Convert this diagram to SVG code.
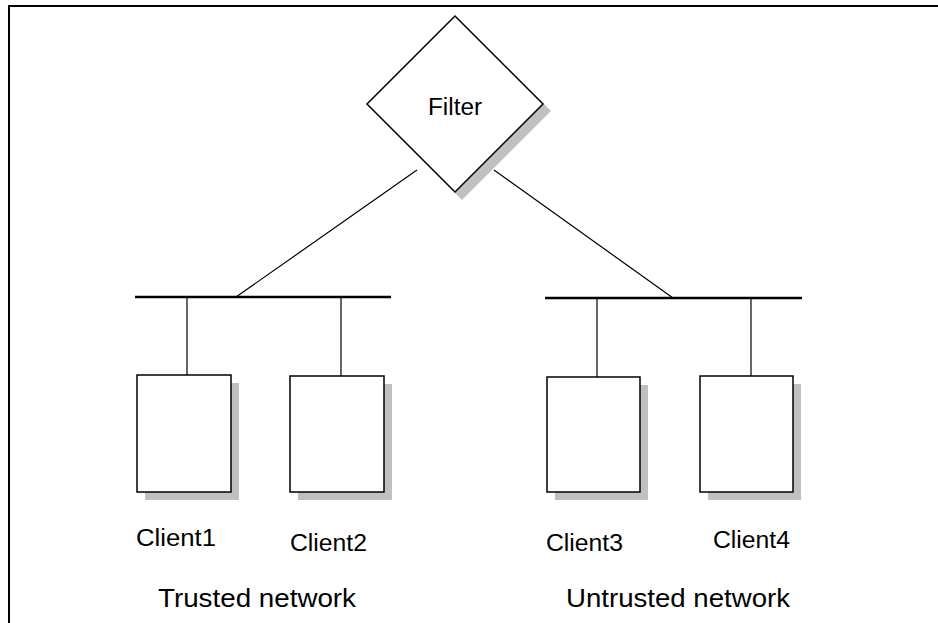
<svg xmlns="http://www.w3.org/2000/svg" width="938" height="623" viewBox="0 0 938 623">
<style>
.ln{stroke:#000;stroke-width:1.2;fill:none}
.bus{stroke:#000;stroke-width:2.6;fill:none}
.shadow{fill:#c0c0c0;stroke:none}
.box{fill:#fff;stroke:#000;stroke-width:1.5}
.t{font-family:"Liberation Sans",Arial,sans-serif;fill:#000}
.lbl{font-size:23px}
.big{font-size:25px}
</style>
<rect width="938" height="623" fill="#fff"/>
<path d="M9,623 V6 H938" stroke="#000" stroke-width="2" fill="none"/>
<g id="connectors">
<line class="ln" x1="417" y1="170" x2="236" y2="297"/>
<line class="ln" x1="494" y1="170" x2="673" y2="298"/>
<line class="bus" x1="135" y1="297" x2="391" y2="297"/>
<line class="bus" x1="545" y1="298" x2="802" y2="298"/>
<line class="ln" x1="187" y1="297" x2="187" y2="375"/>
<line class="ln" x1="341" y1="297" x2="341" y2="376"/>
<line class="ln" x1="597" y1="298" x2="597" y2="377"/>
<line class="ln" x1="751" y1="298" x2="751" y2="376"/>
</g>
<g id="filter">
<polygon class="shadow" points="462,23 551,111 462,200 374,111"/>
<polygon class="box" points="455,16 543,104 455,192 367,104"/>
<text class="t lbl" x="428" y="115" textLength="54" lengthAdjust="spacingAndGlyphs">Filter</text>
</g>
<g id="client1">
<rect class="shadow" x="145" y="383" width="94" height="117"/>
<rect class="box" x="137" y="375" width="94" height="117"/>
<text class="t lbl" x="136" y="546" textLength="80" lengthAdjust="spacingAndGlyphs">Client1</text>
</g>
<g id="client2">
<rect class="shadow" x="298" y="384" width="94" height="116"/>
<rect class="box" x="290" y="376" width="94" height="116"/>
<text class="t lbl" x="290" y="551" textLength="77" lengthAdjust="spacingAndGlyphs">Client2</text>
</g>
<g id="client3">
<rect class="shadow" x="555" y="385" width="93" height="115"/>
<rect class="box" x="547" y="377" width="93" height="115"/>
<text class="t lbl" x="546" y="551" textLength="77" lengthAdjust="spacingAndGlyphs">Client3</text>
</g>
<g id="client4">
<rect class="shadow" x="708" y="384" width="93" height="116"/>
<rect class="box" x="700" y="376" width="93" height="116"/>
<text class="t lbl" x="713" y="548" textLength="77" lengthAdjust="spacingAndGlyphs">Client4</text>
</g>
<g id="trusted">
<text class="t big" x="158" y="607" textLength="198" lengthAdjust="spacingAndGlyphs">Trusted network</text>
</g>
<g id="untrusted">
<text class="t big" x="566" y="607" textLength="224" lengthAdjust="spacingAndGlyphs">Untrusted network</text>
</g>
</svg>
